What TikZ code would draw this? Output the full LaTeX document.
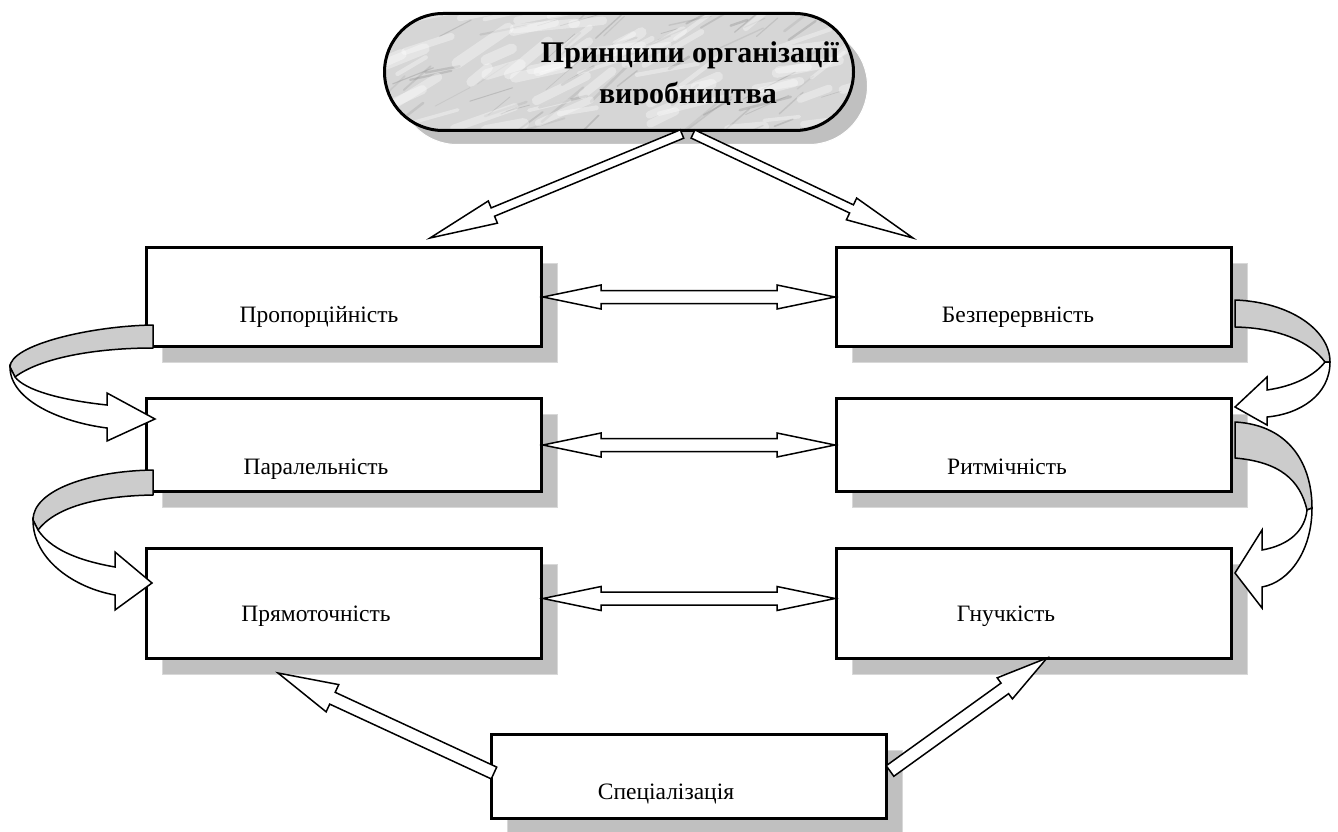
\documentclass[tikz,border=0pt]{standalone}
\usepackage{fontspec}
\setmainfont{Liberation Serif}
\usetikzlibrary{calc,shadows}
\definecolor{shadowgray}{HTML}{C0C0C0}
\definecolor{shadowedge}{HTML}{D8D8D8}
\definecolor{ribbongray}{HTML}{CCCCCC}
\definecolor{marble}{HTML}{D6D6D6}
\tikzset{
  box/.style={draw=black, line width=3.5pt, fill=white, inner sep=0pt, outer sep=0pt,
    anchor=north west, minimum width=395pt,
    general shadow={fill=shadowgray, draw=shadowedge, line width=1pt, shadow xshift=16pt, shadow yshift=-16pt}},
  lbl/.style={anchor=base, inner sep=0pt, font=\fontsize{23.5}{28}\selectfont},
  ttl/.style={anchor=base, inner sep=0pt, font=\fontsize{30}{36}\selectfont\bfseries},
  blockarrow/.style={draw=black, line width=1.5pt, fill=white, line join=miter},
  ribbonback/.style={draw=black, line width=1.5pt, fill=ribbongray, line join=round},
  ribbonfront/.style={draw=black, line width=1.5pt, fill=white, line join=miter},
}
% #1 from, #2 to, #3 shaft half width, #4 head half width, #5 head length
\newcommand{\blockarr}[5]{%
  \coordinate (bah) at ($(#2)!#5!(#1)$);
  \draw[blockarrow] ($(#1)!#3!90:(#2)$) -- ($(bah)!#3!90:(#2)$) -- ($(bah)!#4!90:(#2)$)
    -- (#2) -- ($(bah)!#4!-90:(#2)$) -- ($(bah)!#3!-90:(#2)$) -- ($(#1)!#3!-90:(#2)$) -- cycle;}
\newcommand{\dblarr}[5]{%
  \coordinate (dah1) at ($(#1)!#5!(#2)$);
  \coordinate (dah2) at ($(#2)!#5!(#1)$);
  \draw[blockarrow] (#1) -- ($(dah1)!#4!90:(#2)$) -- ($(dah1)!#3!90:(#2)$) -- ($(dah2)!#3!90:(#2)$)
    -- ($(dah2)!#4!90:(#2)$) -- (#2) -- ($(dah2)!#4!-90:(#2)$) -- ($(dah2)!#3!-90:(#2)$)
    -- ($(dah1)!#3!-90:(#2)$) -- ($(dah1)!#4!-90:(#2)$) -- cycle;}
\begin{document}
\begin{tikzpicture}[x=1pt,y=-1pt]
\useasboundingbox (0,0) rectangle (1338,832);
\fill[white] (0,0) rectangle (1338,832);

% ---- title ----
\fill[shadowgray, draw=white, line width=1pt, rounded corners=58.5pt] (398.5,27.5) rectangle (867.5,144.5);
\fill[marble, rounded corners=58.5pt] (384.5,13.5) rectangle (853.5,130.5);
\begin{scope}
  \clip[rounded corners=58.5pt] (384.5,13.5) rectangle (853.5,130.5);
  \pgfmathsetseed{12}
  \foreach \i in {1,...,70}{
    \pgfmathsetmacro\mxa{370+490*rnd}
    \pgfmathsetmacro\mya{5+130*rnd}
    \pgfmathsetmacro\mlen{15+45*rnd}
    \pgfmathsetmacro\mang{-10-35*rnd}
    \pgfmathsetmacro\mlw{0.6+2*rnd}
    \pgfmathtruncatemacro\mgr{35+30*rnd}
    \draw[black!\mgr, line width=\mlw pt, line cap=round, opacity=0.22] (\mxa,\mya) -- ++(\mang:\mlen);
  }
  \foreach \i in {1,...,70}{
    \pgfmathsetmacro\mxa{370+490*rnd}
    \pgfmathsetmacro\mya{5+130*rnd}
    \pgfmathsetmacro\mlen{20+50*rnd}
    \pgfmathsetmacro\mang{-5-35*rnd}
    \pgfmathsetmacro\mlw{3+8*rnd}
    \draw[white, line width=\mlw pt, line cap=round, opacity=0.35] (\mxa,\mya) -- ++(\mang:\mlen);
  }
\end{scope}
\node[draw=black, line width=3pt, rounded corners=58.5pt, inner sep=0pt, outer sep=0pt,
  minimum width=469pt, minimum height=117pt] (title) at (619,72) {};
\node[ttl] (title1) at (690,63) {Принципи організації};
\begin{scope}
  \clip (380,70) rectangle (860,105);
  \node[ttl] (title2) at (688,104) {виробництва};
\end{scope}

% ---- boxes ----
\node[box, minimum height=99pt] (b1) at (146.5,247.5) {};
\node[box, minimum height=99pt] (b2) at (836.5,247.5) {};
\node[box, minimum height=93pt] (b3) at (146.5,398.5) {};
\node[box, minimum height=93pt] (b4) at (836.5,398.5) {};
\node[box, minimum height=110pt] (b5) at (146.5,548.5) {};
\node[box, minimum height=110pt] (b6) at (836.5,548.5) {};
\node[box, minimum height=84pt] (b7) at (491.5,734.5) {};

\node[lbl] (l1) at (319,322) {Пропорційність};
\node[lbl] (l2) at (1018,322) {Безперервність};
\node[lbl] (l3) at (316,474) {Паралельність};
\node[lbl] (l4) at (1007,474) {Ритмічність};
\node[lbl] (l5) at (316,621) {Прямоточність};
\node[lbl] (l6) at (1006,621) {Гнучкість};
\node[lbl] (l7) at (666,799) {Спеціалізація};

% ---- straight block arrows ----
\coordinate (tl0) at (682,134);
\coordinate (tl1) at (430,238);
\coordinate (tr0) at (693,134);
\coordinate (tr1) at (913,238);
\blockarr{tl0}{tl1}{4.5pt}{12pt}{68pt}
\blockarr{tr0}{tr1}{4.5pt}{12pt}{68pt}

\coordinate (h1a) at ([xshift=1.5pt]b1.east);
\coordinate (h1b) at ([xshift=-1.5pt]b2.west);
\coordinate (h2a) at ([xshift=1.5pt]b3.east);
\coordinate (h2b) at ([xshift=-1.5pt]b4.west);
\coordinate (h3a) at ([xshift=1.5pt,yshift=5pt]b5.east);
\coordinate (h3b) at ([xshift=-1.5pt,yshift=5pt]b6.west);
\dblarr{h1a}{h1b}{6.5pt}{12pt}{58pt}
\dblarr{h2a}{h2b}{6.5pt}{12pt}{58pt}
\dblarr{h3a}{h3b}{6.5pt}{12pt}{58pt}

\coordinate (sl0) at (494,773);
\coordinate (sl1) at (278,673);
\coordinate (sr0) at (890,771);
\coordinate (sr1) at (1047,658);
\blockarr{sl0}{sl1}{6.5pt}{15pt}{60pt}
\blockarr{sr0}{sr1}{6.5pt}{13pt}{52pt}

% ---- curved ribbon arrows (left) ----
\draw[ribbonback] (153,325) .. controls (90,326) and (10,345) .. (10,367) -- (15,377)
  .. controls (40,358) and (95,348) .. (153,348) -- cycle;
\draw[ribbonfront] (10,367) .. controls (10,400) and (60,422) .. (107,428) -- (107,441) -- (155,419)
  -- (107,393) -- (107,405) .. controls (60,400) and (25,390) .. (15,377) -- cycle;
\draw[ribbonback] (153,470) .. controls (90,471) and (33,490) .. (33,520) -- (38,530)
  .. controls (55,508) and (95,496) .. (153,495) -- cycle;
\draw[ribbonfront] (33,520) .. controls (33,560) and (75,588) .. (115,595) -- (115,610) -- (152,583)
  -- (115,552) -- (115,567) .. controls (75,560) and (50,548) .. (38,530) -- cycle;

% ---- curved ribbon arrows (right) ----
\draw[ribbonback] (1235,300) .. controls (1290,302) and (1330,330) .. (1330,362) -- (1325,362)
  .. controls (1310,342) and (1280,328) .. (1235,327) -- cycle;
\draw[ribbonfront] (1330,362) .. controls (1330,395) and (1300,414) .. (1267,417) -- (1267,425) -- (1235,407)
  -- (1267,377) -- (1267,390) .. controls (1295,386) and (1315,375) .. (1325,362) -- cycle;
\draw[ribbonback] (1235,422) .. controls (1290,425) and (1312,465) .. (1312,508) -- (1307,510)
  .. controls (1300,480) and (1280,462) .. (1235,458) -- cycle;
\draw[ribbonfront] (1312,508) .. controls (1312,550) and (1290,582) .. (1262,587) -- (1262,608) -- (1235,573)
  -- (1262,530) -- (1262,550) .. controls (1290,545) and (1305,530) .. (1307,510) -- cycle;
\end{tikzpicture}
\end{document}
